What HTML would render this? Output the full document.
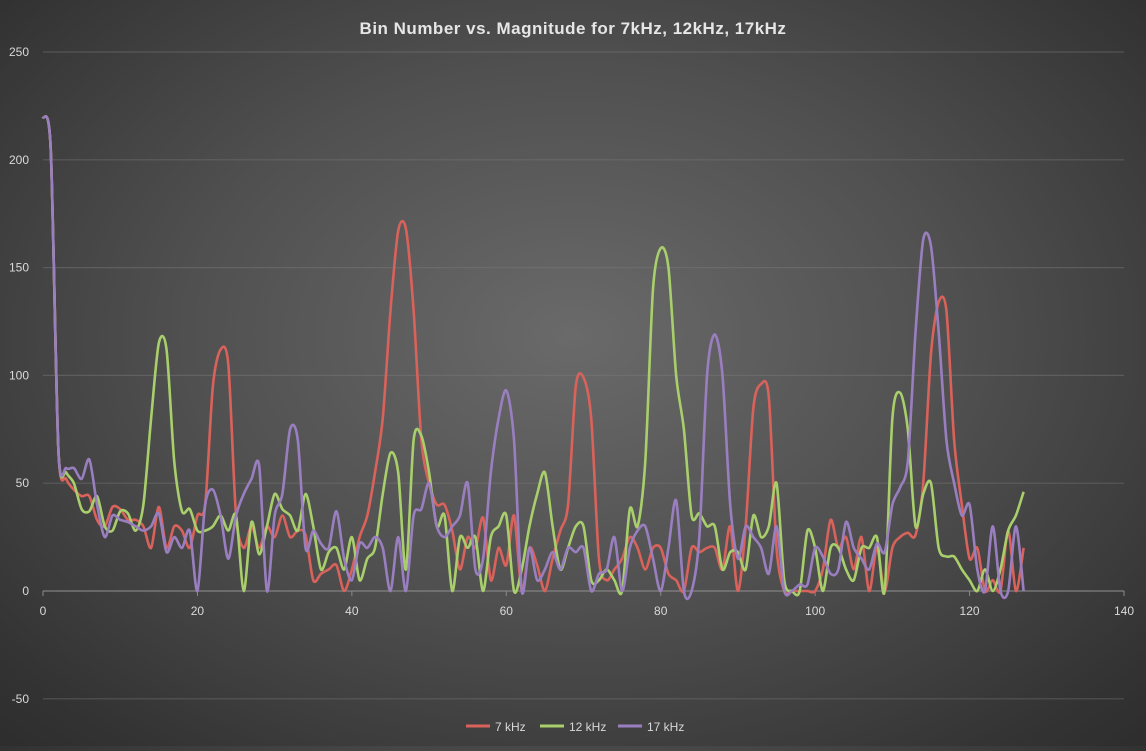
<!DOCTYPE html>
<html><head><meta charset="utf-8"><style>
html,body{margin:0;padding:0;}
body{width:1146px;height:746px;overflow:hidden;background:radial-gradient(ellipse 75% 80% at 50% 45%,#6a6a6a 0%,#505050 45%,#333 85%,#2b2b2b 100%);font-family:"Liberation Sans",sans-serif;}
</style></head><body>
<svg id="chart" width="1146" height="746" xmlns="http://www.w3.org/2000/svg">
<text x="573" y="34" text-anchor="middle" fill="#e6e6e6" font-size="17" font-weight="bold" letter-spacing="0.5">Bin Number vs. Magnitude for 7kHz, 12kHz, 17kHz</text>
<g id="grid"></g><g id="axes"></g><g id="series"></g>
<g font-size="12" fill="#d9d9d9">
<line x1="466" y1="726" x2="490" y2="726" stroke="#d9625b" stroke-width="3"/><text x="495" y="731">7 kHz</text>
<line x1="540" y1="726" x2="564" y2="726" stroke="#a8cf6b" stroke-width="3"/><text x="569" y="731">12 kHz</text>
<line x1="618" y1="726" x2="642" y2="726" stroke="#9a7fc0" stroke-width="3"/><text x="647" y="731">17 kHz</text>
</g>
</svg>
<script>
const xTicks=[0,20,40,60,80,100,120,140];
const yTicks=[-50,0,50,100,150,200,250];
const s7=[220,205,65,52,47,44,44,33,30,39,38,33,33,30,20,39,20,30,28,20,35,40,95,112,105,35,20,30,20,30,25,35,25,28,26,5,8,10,12,0,10,25,35,55,80,130,167,168,130,70,50,40,40,28,10,25,20,34,5,20,12,35,0,20,12,0,15,28,40,95,99,80,15,5,10,15,25,20,10,20,20,8,5,0,20,18,20,20,10,30,0,30,85,96,90,20,0,0,0,0,0,10,33,20,25,10,25,0,20,0,20,25,27,26,50,110,134,130,70,40,15,20,0,5,0,28,0,20];
const s12=[220,205,65,55,50,38,37,44,30,28,37,36,28,40,80,115,112,60,37,38,28,28,30,35,28,35,0,32,17,30,45,38,35,28,45,30,10,18,20,10,25,5,15,20,45,64,55,10,70,72,55,30,35,0,25,20,25,0,25,30,35,0,10,30,45,55,30,10,20,30,30,5,5,10,5,0,38,30,60,140,159,150,100,75,35,36,30,30,10,18,18,10,35,25,30,50,5,0,0,28,20,0,20,20,10,5,20,20,25,0,80,92,75,30,45,50,20,16,16,10,5,0,10,0,10,28,35,46];
const s17=[220,205,65,57,57,52,61,40,25,35,33,32,30,28,30,36,18,25,20,28,0,40,47,35,15,35,45,52,58,0,35,45,75,70,20,28,22,20,37,15,5,22,20,25,20,0,25,0,35,38,50,30,25,30,35,50,10,15,55,80,93,70,0,20,5,10,18,10,20,18,20,0,8,10,25,0,20,28,30,15,0,20,42,0,0,25,100,119,100,40,15,30,25,20,8,30,0,0,3,3,20,16,8,10,32,20,15,10,22,18,40,48,60,120,163,160,120,70,50,35,40,10,0,30,0,0,30,0];
const X0=43,X1=1124,Y0=591,PY=107.8/50;
function xs(v){return X0+(v/140)*(X1-X0);}
function ys(v){return Y0-v*PY;}
const NS="http://www.w3.org/2000/svg";
const grid=document.getElementById('grid'),axes=document.getElementById('axes'),series=document.getElementById('series');
yTicks.forEach(t=>{
 const l=document.createElementNS(NS,'line');
 
 
 l.setAttribute('x1',X0);l.setAttribute('x2',X1);l.setAttribute('y1',ys(t));l.setAttribute('y2',ys(t));
 l.setAttribute('stroke',t===0?'#8a8a8a':'#7a7a7a');l.setAttribute('stroke-opacity',t===0?'0.9':'0.45');l.setAttribute('stroke-width','1.2');
 grid.appendChild(l);
 const tx=document.createElementNS(NS,'text');
 
 
 tx.setAttribute('x',29);tx.setAttribute('y',ys(t)+4);tx.setAttribute('text-anchor','end');
 tx.setAttribute('fill','#d9d9d9');tx.setAttribute('font-size','12');tx.textContent=t;axes.appendChild(tx);
});
xTicks.forEach(t=>{
 const tk=document.createElementNS(NS,'line');
 
 
 tk.setAttribute('x1',xs(t));tk.setAttribute('x2',xs(t));tk.setAttribute('y1',Y0);tk.setAttribute('y2',Y0+5);
 tk.setAttribute('stroke','#8a8a8a');axes.appendChild(tk);
 const tx=document.createElementNS(NS,'text');
 
 
 tx.setAttribute('x',xs(t));tx.setAttribute('y',Y0+24);tx.setAttribute('text-anchor','middle');
 tx.setAttribute('fill','#d9d9d9');tx.setAttribute('font-size','12');tx.textContent=t;axes.appendChild(tx);
});
function path(vals){
 const p=vals.map((v,i)=>[xs(i),ys(v)]);
 let d='M'+p[0][0]+','+p[0][1];
 for(let i=0;i<p.length-1;i++){
  const a=p[Math.max(0,i-1)],b=p[i],c=p[i+1],e=p[Math.min(p.length-1,i+2)];
  const t=1/7;
  d+=' C'+(b[0]+(c[0]-a[0])*t)+','+(b[1]+(c[1]-a[1])*t)+' '+(c[0]-(e[0]-b[0])*t)+','+(c[1]-(e[1]-b[1])*t)+' '+c[0]+','+c[1];
 }
 return d;
}
[[s7,'#d9625b','series-7khz'],[s12,'#a8cf6b','series-12khz'],[s17,'#9a7fc0','series-17khz']].forEach(([v,c,n])=>{
 const pa=document.createElementNS(NS,'path');
 
 
 pa.setAttribute('d',path(v));pa.setAttribute('fill','none');pa.setAttribute('stroke',c);
 pa.setAttribute('stroke-width','2.6');pa.setAttribute('stroke-linejoin','round');
 series.appendChild(pa);
});
</script>
</body></html>
